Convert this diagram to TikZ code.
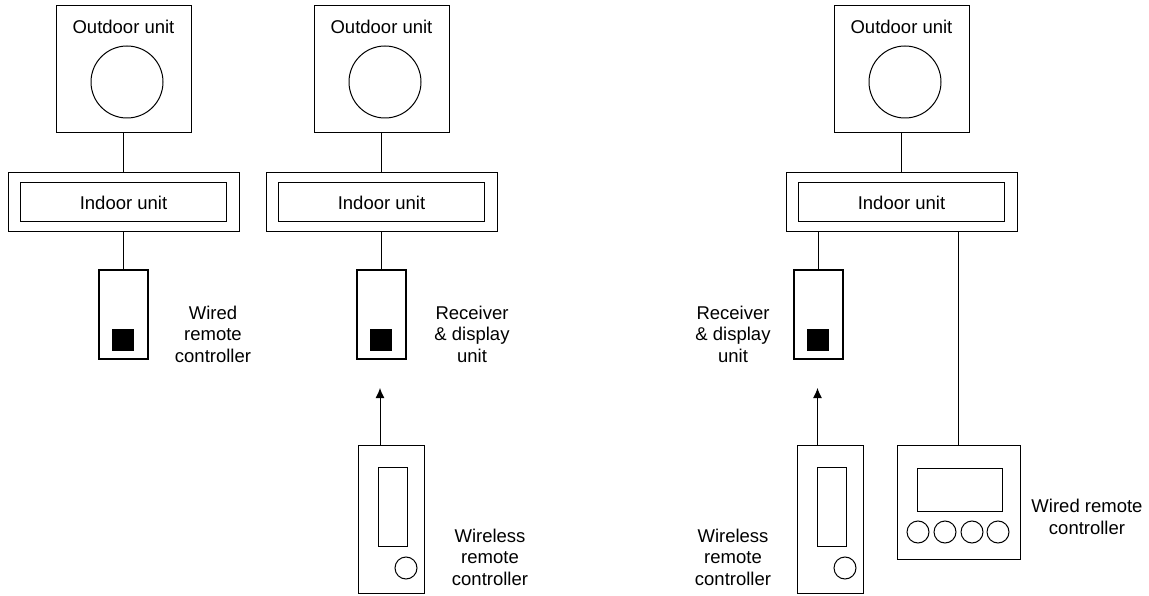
\documentclass[tikz,border=0pt]{standalone}
\usepackage{fontspec}
\setmainfont{Liberation Sans}
\usetikzlibrary{arrows.meta,positioning}
\tikzset{
  unit/.style={draw,rectangle,line width=1pt,inner sep=0pt},
  outdoor/.style={unit,minimum width=135pt,minimum height=127pt},
  indoorframe/.style={unit,minimum width=231pt,minimum height=59pt},
  indoor/.style={unit,minimum width=206pt,minimum height=39pt},
  fan/.style={draw,circle,line width=1pt,minimum size=72pt,inner sep=0pt},
  receiver/.style={draw,rectangle,line width=2pt,minimum width=49pt,minimum height=89pt},
  pad/.style={fill=black,minimum size=22pt,inner sep=0pt},
  handset/.style={unit,minimum width=66pt,minimum height=148pt},
  strip/.style={unit,minimum width=29pt,minimum height=79pt},
  knob/.style={draw,circle,line width=1pt,minimum size=22pt,inner sep=0pt},
  wallpanel/.style={unit,minimum width=123pt,minimum height=114pt},
  panelscreen/.style={unit,minimum width=85pt,minimum height=43pt},
  lbl/.style={align=center},
  wire/.style={line width=1pt},
  signal/.style={-{Latex[length=10pt,width=9pt]},line width=1pt}
}

\begin{document}
\begin{tikzpicture}[x=1pt,y=-1pt,font=\fontsize{18.5}{21.5}\selectfont]
\useasboundingbox (0,0) rectangle (1149,596);

% first system: wired controller
\node[outdoor] (out1) at (123.5,69.5) {};
\node (out1t) at (123.5,27) {Outdoor unit};
\node[fan] (fan1) at (127,82) {};
\node[indoorframe] (frame1) at (123.5,202.5) {};
\node[indoor] (in1) at (123.5,202.5) {Indoor unit};
\node[receiver] (wrc1) at (123.5,314.5) {};
\node[pad] (pad1) at (122.5,340) {};
\node[lbl] (wrc1t) at (213,334) {Wired\\remote\\controller};

\draw[wire] (out1) -- (frame1);
\draw[wire] (frame1) -- (wrc1);

% second system: receiver + wireless controller
\node[outdoor] (out2) at (381.5,69.5) {};
\node (out2t) at (381.5,27) {Outdoor unit};
\node[fan] (fan2) at (385,82) {};
\node[indoorframe] (frame2) at (381.5,202.5) {};
\node[indoor] (in2) at (381.5,202.5) {Indoor unit};
\node[receiver] (rcv2) at (381.5,314.5) {};
\node[pad] (pad2) at (381,340) {};
\node[lbl] (rcv2t) at (472,334) {Receiver\\\& display\\unit};
\node[handset] (wl2) at (391,519) {};
\node[strip] (strip2) at (392.5,506.5) {};
\node[knob] (knob2) at (406,568) {};
\node[lbl] (wl2t) at (490,557) {Wireless\\remote\\controller};
\coordinate (sig2) at (380,388);

\draw[wire] (out2) -- (frame2);
\draw[wire] (frame2) -- (rcv2);
\draw[signal] (sig2 |- wl2.north) -- (sig2);

% third system: receiver, wireless and wired controller
\node[outdoor] (out3) at (901.5,69.5) {};
\node (out3t) at (901.5,27) {Outdoor unit};
\node[fan] (fan3) at (905,82) {};
\node[indoorframe] (frame3) at (901.5,202.5) {};
\node[indoor] (in3) at (901.5,202.5) {Indoor unit};
\node[receiver] (rcv3) at (818.5,314.5) {};
\node[pad] (pad3) at (817.5,340) {};
\node[lbl] (rcv3t) at (733,334) {Receiver\\\& display\\unit};
\node[handset] (wl3) at (830,519) {};
\node[strip] (strip3) at (831.5,506.5) {};
\node[knob] (knob3) at (845,568) {};
\node[lbl] (wl3t) at (733,557) {Wireless\\remote\\controller};
\coordinate (sig3) at (817.5,388);
\node[wallpanel] (wrc3) at (958.5,502) {};
\node[panelscreen] (scr3) at (959.5,489.5) {};
\foreach \i/\bx in {1/918,2/945,3/972,4/998}
  \node[knob] (btn\i) at (\bx,532) {};
\node[lbl] (wrc3t) at (1087,517) {Wired remote\\controller};

\draw[wire] (out3) -- (frame3);
\draw[wire] (frame3.south -| rcv3) -- (rcv3);
\draw[wire] (frame3.south -| wrc3) -- (wrc3);
\draw[signal] (sig3 |- wl3.north) -- (sig3);

\end{tikzpicture}
\end{document}
